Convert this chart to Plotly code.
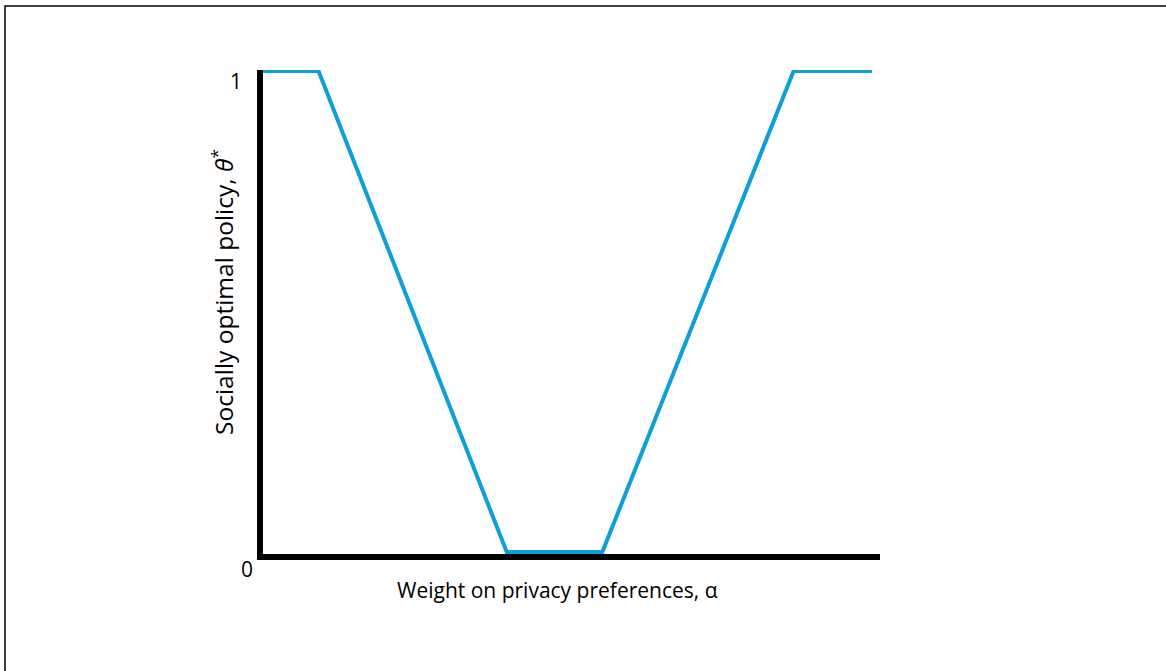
import plotly.graph_objects as go

# Data: socially optimal policy theta* vs weight on privacy preferences alpha
alpha = [0.0, 0.09, 0.395, 0.55, 0.86, 0.987]
theta = [1.0, 1.0, 0.0, 0.0, 1.0, 1.0]

x_title = "Weight on privacy preferences, α"
y_title = "Socially optimal policy, <i>θ</i><sup>*</sup>"
tick_labels = ["1", "0"]

W, H = 1166, 671
L, R, T, B = 263, 880, 70, 554
pw, ph = R - L, B - T

def px(xp):
    return (xp - L) / pw

def py(yp):
    return (B - yp) / ph

font = "Open Sans, Noto Sans, sans-serif"

fig = go.Figure()
fig.add_trace(go.Scatter(
    x=alpha, y=theta, mode="lines",
    line=dict(color="#0E9FDB", width=4),
    hoverinfo="skip", showlegend=False,
))

fig.update_layout(
    width=W, height=H,
    margin=dict(l=L, r=W - R, t=T, b=H - B, pad=0),
    paper_bgcolor="white", plot_bgcolor="white",
    xaxis=dict(range=[0, 1], showline=True, linecolor="black", linewidth=6,
               showgrid=False, zeroline=False, showticklabels=False, ticks=""),
    yaxis=dict(range=[-2 / 481, 482 / 481], showline=True, linecolor="black", linewidth=6,
               showgrid=False, zeroline=False, showticklabels=False, ticks=""),
    font=dict(family=font, color="black"),
)

annotations = [
    dict(text=tick_labels[0], x=px(236), y=py(81), font=dict(size=21)),
    dict(text=tick_labels[1], x=px(247), y=py(569), font=dict(size=21)),
    dict(text=x_title, x=px(557), y=py(590), font=dict(size=21)),
    dict(text=y_title, x=px(222), y=py(292), textangle=-90, font=dict(size=24.5)),
]
for a in annotations:
    fig.add_annotation(xref="paper", yref="paper", showarrow=False,
                       xanchor="center", yanchor="middle", **a)

# page frame
fig.add_shape(type="rect", xref="paper", yref="paper",
              x0=px(5), x1=px(1190), y0=py(700), y1=py(6),
              line=dict(color="black", width=1.5), layer="below")

fig.write_html("out.html",
               config={"displayModeBar": False},
               post_script="document.body.style.margin='0';document.body.style.overflow='hidden';")
